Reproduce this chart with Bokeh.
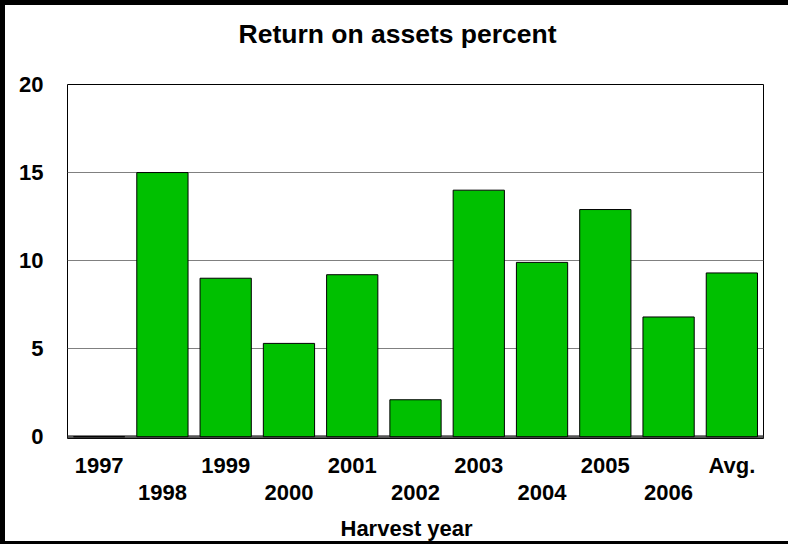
from bokeh.plotting import figure
from bokeh.models import Range1d, LinearAxis, FixedTicker, Span, Title
from bokeh.embed import file_html
from bokeh.resources import INLINE

# ---- data ----
categories = ["1997", "1998", "1999", "2000", "2001", "2002",
              "2003", "2004", "2005", "2006", "Avg."]
values = [0.0, 15.0, 9.0, 5.3, 9.2, 2.1, 14.0, 9.9, 12.9, 6.8, 9.3]
y_ticks = [0, 5, 10, 15, 20]
grid_ticks = [5, 10, 15]
title_text = "Return on assets percent"
x_label = "Harvest year"

FONT = "Liberation Sans"
xs = list(range(len(categories)))
row1 = xs[0::2]
row2 = xs[1::2]

p = figure(width=788, height=544, output_backend="svg", toolbar_location=None,
           x_range=Range1d(-0.5, len(categories) - 0.5),
           y_range=Range1d(-0.1, 20),
           x_axis_type=None,
           min_border_left=67, min_border_right=25,
           min_border_top=84, min_border_bottom=106)

p.styles = {"box-shadow": "inset 5px 5px 0 0 #000000, inset 0 -3px 0 0 #000000"}

p.background_fill_color = "white"
p.border_fill_alpha = 0
p.outline_line_color = "black"
p.outline_line_width = 1


def spacer(size):
    # an axis with one invisible tick, used only to reserve vertical space
    ax = LinearAxis(ticker=FixedTicker(ticks=[xs[0]], minor_ticks=[]))
    ax.axis_line_color = None
    ax.major_tick_line_color = None
    ax.minor_tick_line_color = None
    ax.major_label_text_color = None
    ax.major_tick_in = 0
    ax.major_tick_out = size
    ax.minor_tick_out = 0
    ax.major_label_standoff = 0
    return ax


# title
p.add_layout(spacer(31), "above")
p.title.text = title_text
p.title.align = "left"
p.title.offset = 171
p.title.standoff = 10
p.title.text_font = FONT
p.title.text_font_size = "26.5px"
p.title.text_font_style = "bold"
p.title.text_color = "black"

# y axis
ya = p.yaxis[0]
ya.ticker = FixedTicker(ticks=y_ticks, minor_ticks=[])
ya.axis_line_color = None
ya.major_tick_line_color = None
ya.minor_tick_line_color = None
ya.major_label_text_font = FONT
ya.major_label_text_font_size = "22px"
ya.major_label_text_font_style = "bold"
ya.major_label_text_color = "black"
ya.major_label_standoff = 18

p.ygrid.ticker = FixedTicker(ticks=grid_ticks, minor_ticks=[])
p.ygrid.grid_line_color = "#808080"
p.ygrid.grid_line_width = 1
p.xgrid.visible = False

# floor
p.add_layout(Span(location=0, dimension="width", line_color="#555555",
                  line_width=3, level="underlay"))

# bars
p.vbar(x=xs, top=values, bottom=0, width=0.81,
       fill_color="#00C000", line_color="black", line_width=1)


def make_axis(ticks, standoff):
    ax = LinearAxis(ticker=FixedTicker(ticks=ticks, minor_ticks=[]),
                    major_label_overrides={i: categories[i] for i in ticks})
    ax.axis_line_color = None
    ax.major_tick_line_color = None
    ax.minor_tick_line_color = None
    ax.major_tick_out = 0
    ax.major_label_text_font = FONT
    ax.major_label_text_font_size = "22px"
    ax.major_label_text_font_style = "bold"
    ax.major_label_text_color = "black"
    ax.major_label_standoff = standoff
    return ax


p.add_layout(make_axis(row1, 14), "below")
p.add_layout(make_axis(row2, 4), "below")
p.add_layout(spacer(11), "below")

xt = Title(text=x_label, align="left", offset=273, standoff=0,
           text_font=FONT, text_font_size="22px", text_font_style="bold",
           text_color="black")
p.add_layout(xt, "below")

open("out.html", "w").write(file_html(p, INLINE))
